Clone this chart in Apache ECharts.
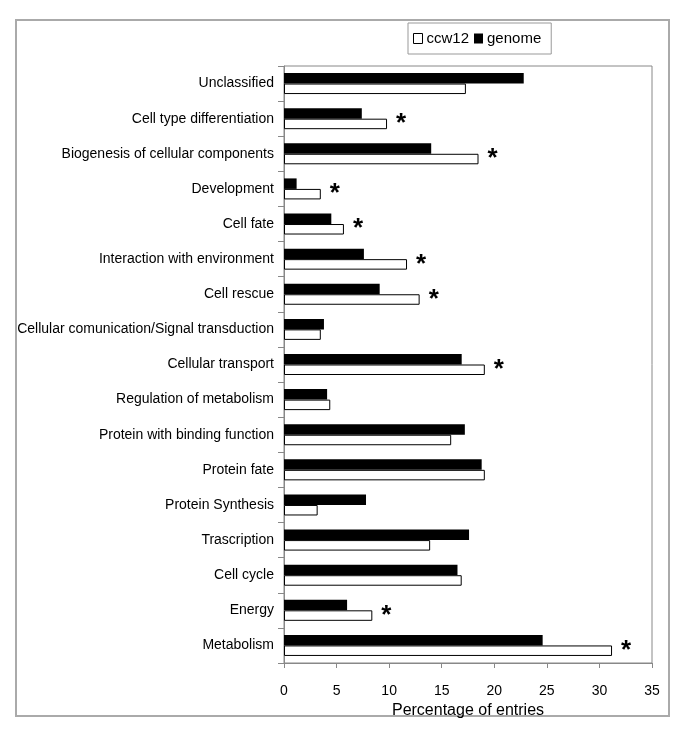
<!DOCTYPE html>
<html>
<head>
<meta charset="utf-8">
<script src="https://cdn.jsdelivr.net/npm/echarts@6/dist/echarts.min.js"></script>
<style>
html,body{margin:0;padding:0;background:#fff;}
#chart{width:685px;height:736px;}
</style>
</head>
<body>
<div id="chart"></div>
<script>
const categories = [
  'Unclassified',
  'Cell type differentiation',
  'Biogenesis of cellular components',
  'Development',
  'Cell fate',
  'Interaction with environment',
  'Cell rescue',
  'Cellular comunication/Signal transduction',
  'Cellular transport',
  'Regulation of metabolism',
  'Protein with binding function',
  'Protein fate',
  'Protein Synthesis',
  'Trascription',
  'Cell cycle',
  'Energy',
  'Metabolism'
];
const genome = [22.8, 7.4, 14.0, 1.2, 4.5, 7.6, 9.1, 3.8, 16.9, 4.1, 17.2, 18.8, 7.8, 17.6, 16.5, 6.0, 24.6];
const ccw12  = [17.3, 9.8, 18.5, 3.5, 5.7, 11.7, 12.9, 3.5, 19.1, 4.4, 15.9, 19.1, 3.2, 13.9, 16.9, 8.4, 31.2];
const significant = [false, true, true, true, true, true, true, false, true, false, false, false, false, false, false, true, true];
const xTicks = { min: 0, max: 35, interval: 5 };

const FONT = "'Liberation Sans', Arial, sans-serif";
const chart = echarts.init(document.getElementById('chart'), null, { renderer: 'canvas' });
chart.setOption({
  animation: false,
  backgroundColor: '#fff',
  textStyle: { fontFamily: FONT, color: '#000' },
  graphic: [{
    type: 'rect',
    shape: { x: 16, y: 20, width: 653, height: 696 },
    style: { fill: 'none', stroke: '#aaa', lineWidth: 2 },
    silent: true
  }],
  legend: {
    data: [
      { name: 'ccw12', itemStyle: { color: '#fff', borderColor: '#000', borderWidth: 1 } },
      { name: 'genome', itemStyle: { color: '#000', borderWidth: 0 } }
    ],
    icon: 'rect',
    left: 408, top: 23,
    orient: 'horizontal',
    padding: [8, 10, 8, 5],
    itemGap: 5,
    itemWidth: 9, itemHeight: 10,
    borderColor: '#999', borderWidth: 1,
    textStyle: { fontFamily: FONT, fontSize: 15, color: '#000', padding: [0, 0, 0, -1] }
  },
  grid: {
    left: 284, right: 33, top: 66, bottom: 73,
    show: true, borderColor: '#888', borderWidth: 1, backgroundColor: 'transparent'
  },
  xAxis: {
    type: 'value',
    min: xTicks.min, max: xTicks.max, interval: xTicks.interval,
    name: 'Percentage of entries',
    nameLocation: 'middle', nameGap: 38,
    nameTextStyle: { fontFamily: FONT, fontSize: 16, color: '#000' },
    axisLine: { show: true, lineStyle: { color: '#888' } },
    axisTick: { show: true, length: 5, lineStyle: { color: '#888' } },
    axisLabel: { fontFamily: FONT, fontSize: 14, color: '#000', margin: 21 },
    splitLine: { show: false }
  },
  yAxis: {
    type: 'category',
    data: categories,
    inverse: true,
    axisLine: { show: true, lineStyle: { color: '#888' } },
    axisTick: { show: true, length: 6, lineStyle: { color: '#888' } },
    axisLabel: { fontFamily: FONT, fontSize: 14, color: '#000', margin: 10 }
  },
  series: [
    {
      name: 'genome', type: 'bar', data: genome,
      barWidth: 10.5, barGap: '0%',
      itemStyle: { color: '#000', borderColor: '#000', borderWidth: 0 }
    },
    {
      name: 'ccw12', type: 'bar', data: ccw12,
      barWidth: 10.5, barGap: '0%',
      itemStyle: { color: '#fff', borderColor: '#000', borderWidth: 1 },
      label: {
        show: true, position: 'right', distance: 9,
        formatter: p => significant[p.dataIndex] ? '*' : '',
        fontFamily: FONT, fontSize: 26, fontWeight: 'bold', color: '#000'
      }
    }
  ]
});
</script>
</body>
</html>
